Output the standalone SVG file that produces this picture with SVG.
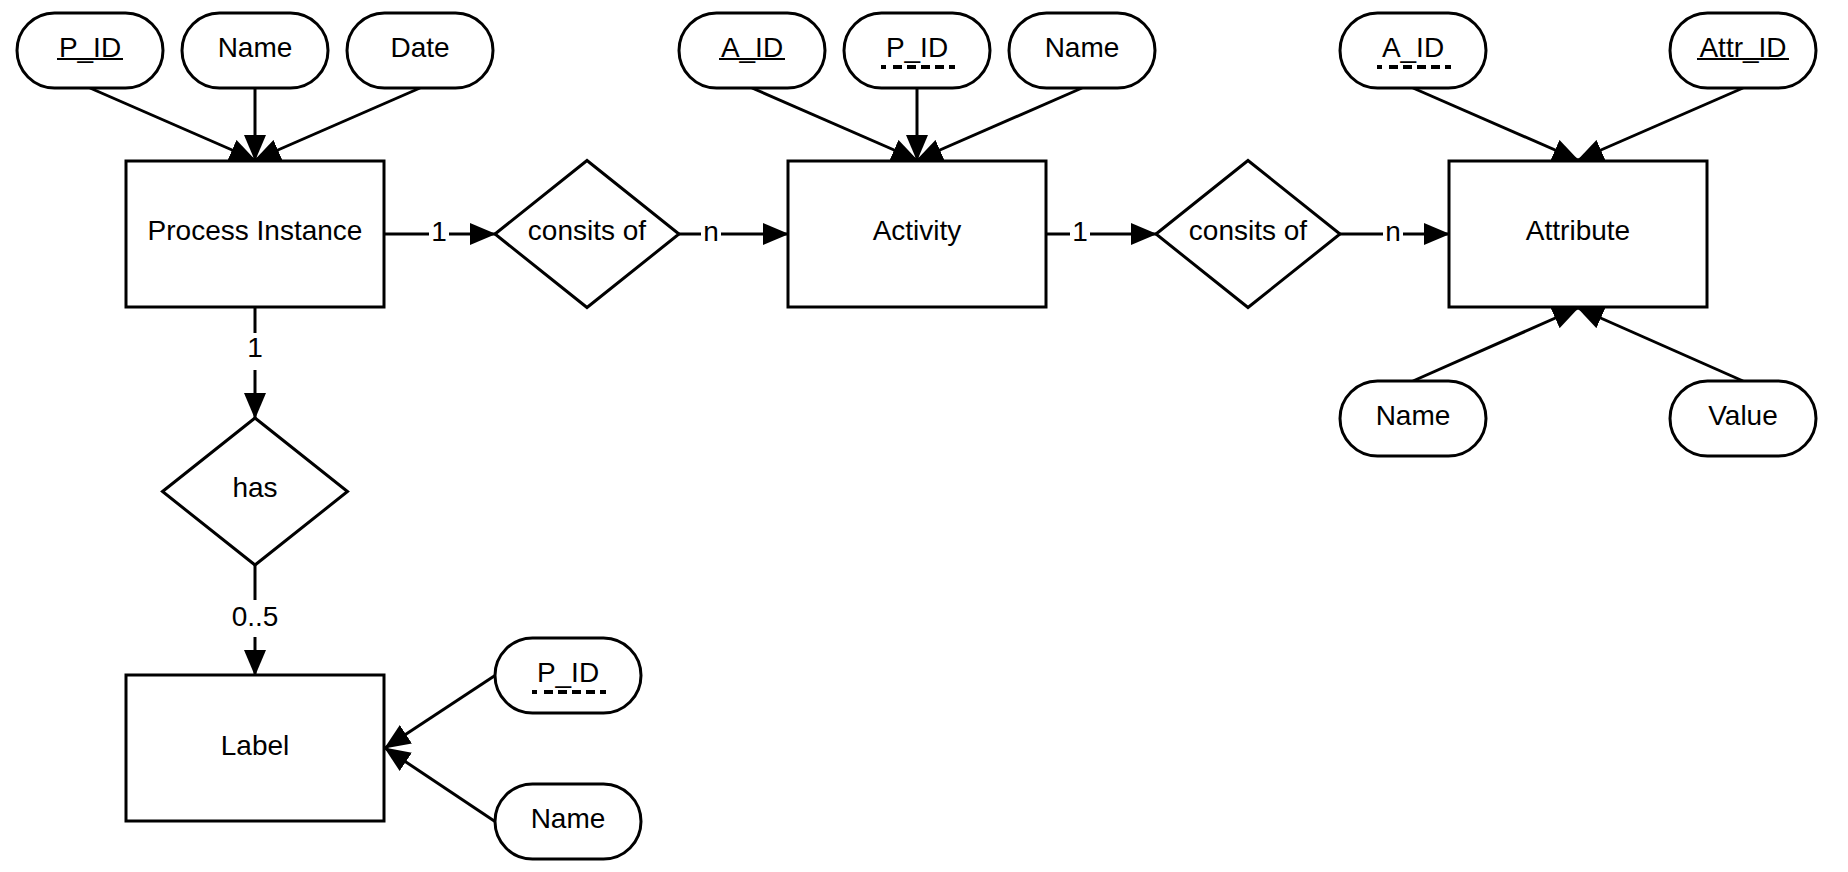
<svg xmlns="http://www.w3.org/2000/svg" width="1848" height="872" viewBox="0 0 1848 872">
<style>
.shape{fill:#fff;stroke:#000;stroke-width:3}
.t{font-family:"Liberation Sans",Arial,sans-serif;font-size:28px;fill:#000;text-anchor:middle}
.c{fill:none;stroke:#000;stroke-width:3;marker-end:url(#arr)}
.bg{fill:#fff;stroke:none}
.ul{stroke:#000;stroke-width:2}
.fk{stroke:#000;stroke-width:4;stroke-dasharray:5 7 9 5 9 5 9 5 9 5 5 0}
</style>
<defs>
<marker id="arr" viewBox="0 0 26 22" refX="25" refY="11" markerWidth="26" markerHeight="22" markerUnits="userSpaceOnUse" orient="auto">
<path d="M0,0 L26,11 L0,22 z" fill="#000"/>
</marker>
</defs>
<rect width="1848" height="872" fill="#fff"/>

<g id="connectors">
<line class="c" x1="90" y1="88" x2="255" y2="160"/>
<line class="c" x1="255" y1="88" x2="255" y2="160"/>
<line class="c" x1="420" y1="88" x2="255" y2="160"/>
<line class="c" x1="752" y1="88" x2="917" y2="160"/>
<line class="c" x1="917" y1="88" x2="917" y2="160"/>
<line class="c" x1="1082" y1="88" x2="917" y2="160"/>
<line class="c" x1="1413" y1="88" x2="1578" y2="160"/>
<line class="c" x1="1743" y1="88" x2="1578" y2="160"/>
<line class="c" x1="1413" y1="381" x2="1578" y2="308"/>
<line class="c" x1="1743" y1="381" x2="1578" y2="308"/>
<line class="c" x1="495" y1="675.5" x2="385" y2="748"/>
<line class="c" x1="495" y1="821.5" x2="385" y2="748"/>

<line class="c" x1="384" y1="234" x2="495" y2="234"/>
<rect class="bg" x="429" y="217" width="20" height="34"/>
<text class="t" x="439" y="241">1</text>
<line class="c" x1="679" y1="234" x2="788" y2="234"/>
<rect class="bg" x="701" y="217" width="20" height="34"/>
<text class="t" x="711" y="241">n</text>
<line class="c" x1="1046" y1="234" x2="1156" y2="234"/>
<rect class="bg" x="1070" y="217" width="20" height="34"/>
<text class="t" x="1080" y="241">1</text>
<line class="c" x1="1340" y1="234" x2="1449" y2="234"/>
<rect class="bg" x="1383" y="217" width="20" height="34"/>
<text class="t" x="1393" y="241">n</text>
<line class="c" x1="255" y1="307" x2="255" y2="418"/>
<rect class="bg" x="245" y="333" width="20" height="37"/>
<text class="t" x="255" y="357">1</text>
<line class="c" x1="255" y1="565" x2="255" y2="675"/>
<rect class="bg" x="229" y="600" width="52" height="37"/>
<text class="t" x="255" y="626">0..5</text>
</g>

<g id="process-instance">
<rect class="shape" x="126" y="161" width="258" height="146"/>
<text class="t" x="255" y="240">Process Instance</text>
</g>
<g id="pi-pid">
<rect class="shape" x="17" y="13" width="146" height="75" rx="37.5"/>
<text class="t" x="90" y="57">P_ID</text>
<line class="ul" x1="57" y1="59" x2="123" y2="59"/>
</g>
<g id="pi-name">
<rect class="shape" x="182" y="13" width="146" height="75" rx="37.5"/>
<text class="t" x="255" y="57">Name</text>
</g>
<g id="pi-date">
<rect class="shape" x="347" y="13" width="146" height="75" rx="37.5"/>
<text class="t" x="420" y="57">Date</text>
</g>

<g id="rel-consists1">
<polygon class="shape" points="495,234 587,160.5 679,234 587,307.5"/>
<text class="t" x="587" y="240">consits of</text>
</g>

<g id="activity">
<rect class="shape" x="788" y="161" width="258" height="146"/>
<text class="t" x="917" y="240">Activity</text>
</g>
<g id="act-aid">
<rect class="shape" x="679" y="13" width="146" height="75" rx="37.5"/>
<text class="t" x="752" y="57">A_ID</text>
<line class="ul" x1="719" y1="59" x2="785" y2="59"/>
</g>
<g id="act-pid">
<rect class="shape" x="844" y="13" width="146" height="75" rx="37.5"/>
<text class="t" x="917" y="57">P_ID</text>
<line class="fk" x1="881" y1="67" x2="955" y2="67"/>
</g>
<g id="act-name">
<rect class="shape" x="1009" y="13" width="146" height="75" rx="37.5"/>
<text class="t" x="1082" y="57">Name</text>
</g>

<g id="rel-consists2">
<polygon class="shape" points="1156,234 1248,160.5 1340,234 1248,307.5"/>
<text class="t" x="1248" y="240">consits of</text>
</g>

<g id="attribute">
<rect class="shape" x="1449" y="161" width="258" height="146"/>
<text class="t" x="1578" y="240">Attribute</text>
</g>
<g id="attr-aid">
<rect class="shape" x="1340" y="13" width="146" height="75" rx="37.5"/>
<text class="t" x="1413" y="57">A_ID</text>
<line class="fk" x1="1377" y1="67" x2="1451" y2="67"/>
</g>
<g id="attr-attrid">
<rect class="shape" x="1670" y="13" width="146" height="75" rx="37.5"/>
<text class="t" x="1743" y="57">Attr_ID</text>
<line class="ul" x1="1697" y1="59" x2="1789" y2="59"/>
</g>
<g id="attr-name">
<rect class="shape" x="1340" y="381" width="146" height="75" rx="37.5"/>
<text class="t" x="1413" y="425">Name</text>
</g>
<g id="attr-value">
<rect class="shape" x="1670" y="381" width="146" height="75" rx="37.5"/>
<text class="t" x="1743" y="425">Value</text>
</g>

<g id="rel-has">
<polygon class="shape" points="162.5,491.5 255,418 347.5,491.5 255,565"/>
<text class="t" x="255" y="497">has</text>
</g>

<g id="label">
<rect class="shape" x="126" y="675" width="258" height="146"/>
<text class="t" x="255" y="755">Label</text>
</g>
<g id="label-pid">
<rect class="shape" x="495" y="638" width="146" height="75" rx="37.5"/>
<text class="t" x="568" y="682">P_ID</text>
<line class="fk" x1="532" y1="692" x2="606" y2="692"/>
</g>
<g id="label-name">
<rect class="shape" x="495" y="784" width="146" height="75" rx="37.5"/>
<text class="t" x="568" y="828">Name</text>
</g>
</svg>
